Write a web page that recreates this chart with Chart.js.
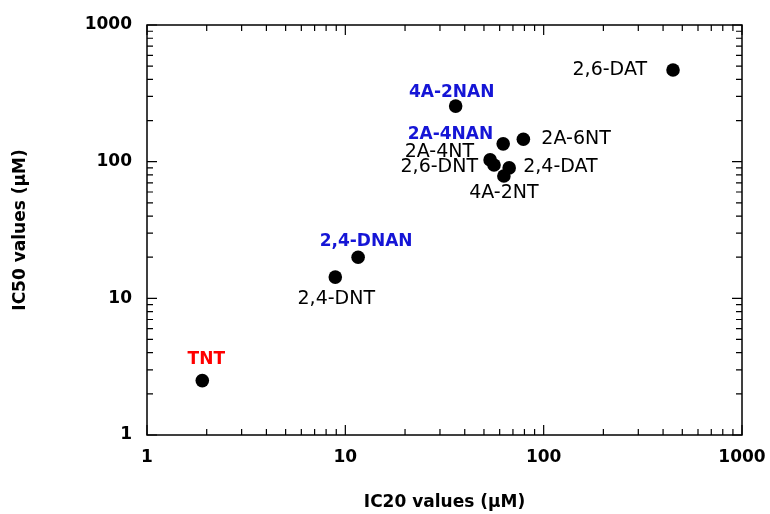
<!DOCTYPE html>
<html>
<head>
<meta charset="utf-8">
<script src="https://cdn.jsdelivr.net/npm/chart.js@4.4.1/dist/chart.umd.min.js"></script>
<style>
  html, body { margin: 0; padding: 0; background: #fff; }
  canvas { display: block; }
</style>
</head>
<body>
<canvas id="icChart" width="770" height="514"></canvas>
<script>
// values (uM)
const compounds = ["TNT", "2,4-DNT", "2,4-DNAN", "4A-2NAN", "2A-4NAN", "2A-6NT",
  "2A-4NT", "2,6-DNT", "2,4-DAT", "4A-2NT", "2,6-DAT"];
const ic20 = [1.9, 8.9, 11.6, 36, 62.5, 79, 53.7, 56.2, 67, 63, 449];
const ic50 = [2.5, 14.3, 20, 255, 135, 146, 103, 94.5, 90, 78.5, 468];
const groups = ["parent", "nt", "nan", "nan", "nan", "nt", "nt", "nt", "nt", "nt", "nt"];

const xTickLabels = ["1", "10", "100", "1000"];
const yTickLabels = ["1", "10", "100", "1000"];

// label placement relative to each point (px)
const labelPlace = {
  "TNT":      { dx: 4,   dy: -21, align: "center" },
  "2,4-DNT":  { dx: 1,   dy: 22,  align: "center" },
  "2,4-DNAN": { dx: 8,   dy: -16, align: "center" },
  "4A-2NAN":  { dx: -4,  dy: -14, align: "center" },
  "2A-4NAN":  { dx: -10, dy: -9,  align: "right" },
  "2A-6NT":   { dx: 18,  dy: 0,   align: "left" },
  "2A-4NT":   { dx: -16, dy: -8,  align: "right" },
  "2,6-DNT":  { dx: -16, dy: 2,   align: "right" },
  "2,4-DAT":  { dx: 14,  dy: -1,  align: "left" },
  "4A-2NT":   { dx: 0,   dy: 17,  align: "center" },
  "2,6-DAT":  { dx: -26, dy: 0,   align: "right" }
};

const groupStyle = {
  parent: { color: "#ff0000", font: "bold 17px 'DejaVu Sans'" },
  nan:    { color: "#1515d6", font: "bold 17px 'DejaVu Sans'" },
  nt:     { color: "#000000", font: "19px 'DejaVu Sans'" }
};

const frameTicks = {
  id: "frameTicks",
  afterDatasetsDraw(chart) {
    const { ctx, chartArea: a, scales } = chart;
    ctx.save();
    ctx.strokeStyle = "#000";
    ctx.lineWidth = 1.5;
    ctx.strokeRect(a.left, a.top, a.right - a.left, a.bottom - a.top);
    ctx.lineWidth = 1.2;
    const vals = [];
    [1, 10, 100].forEach(d => { for (let m = 1; m < 10; m++) vals.push(m * d); });
    vals.push(1000);
    vals.forEach(v => {
      const major = xTickLabels.includes(String(v));
      const len = major ? 10 : 6;
      const x = scales.x.getPixelForValue(v);
      const y = scales.y.getPixelForValue(v);
      ctx.beginPath();
      ctx.moveTo(x, a.bottom); ctx.lineTo(x, a.bottom - len);
      ctx.moveTo(x, a.top); ctx.lineTo(x, a.top + len);
      ctx.moveTo(a.left, y); ctx.lineTo(a.left + len, y);
      ctx.moveTo(a.right, y); ctx.lineTo(a.right - len, y);
      ctx.stroke();
    });
    ctx.restore();
  }
};

const pointLabels = {
  id: "pointLabels",
  afterDatasetsDraw(chart) {
    const { ctx, scales } = chart;
    ctx.save();
    ctx.textBaseline = "middle";
    compounds.forEach((name, i) => {
      const p = labelPlace[name];
      const st = groupStyle[groups[i]];
      ctx.fillStyle = st.color;
      ctx.font = st.font;
      ctx.textAlign = p.align;
      ctx.fillText(name,
        scales.x.getPixelForValue(ic20[i]) + p.dx,
        scales.y.getPixelForValue(ic50[i]) + p.dy);
    });
    ctx.restore();
  }
};

const tickFont = { family: "DejaVu Sans", size: 17, weight: "bold" };
const titleFont = { family: "DejaVu Sans", size: 17, weight: "bold" };

new Chart(document.getElementById("icChart"), {
  type: "scatter",
  data: {
    datasets: [{
      data: compounds.map((c, i) => ({ x: ic20[i], y: ic50[i] })),
      backgroundColor: "#000",
      borderWidth: 0,
      pointRadius: 6.8,
      pointHoverRadius: 6.8
    }]
  },
  options: {
    responsive: false,
    animation: false,
    layout: { padding: { left: 0, right: 28, top: 25, bottom: 0 } },
    plugins: { legend: { display: false }, tooltip: { enabled: false } },
    scales: {
      x: {
        type: "logarithmic",
        min: 1, max: 1000,
        grid: { display: false, drawTicks: false },
        border: { display: false },
        ticks: {
          autoSkip: false, maxRotation: 0, padding: 12,
          color: "#000", font: tickFont,
          callback: v => xTickLabels.includes(String(v)) ? String(v) : ""
        },
        title: { display: true, text: "IC20 values (\u00b5M)", color: "#000",
          font: titleFont, padding: { top: 0, bottom: 1 } },
        afterFit: s => { s.height = 79; s.paddingLeft = 0; s.paddingRight = 0; }
      },
      y: {
        type: "logarithmic",
        min: 1, max: 1000,
        grid: { display: false, drawTicks: false },
        border: { display: false },
        ticks: {
          autoSkip: false, padding: 15,
          color: "#000", font: tickFont,
          callback: v => yTickLabels.includes(String(v)) ? String(v) : ""
        },
        title: { display: true, text: "IC50 values (\u00b5M)", color: "#000",
          font: titleFont, padding: { top: 10, bottom: 0 } },
        afterFit: s => { s.width = 147; s.paddingTop = 0; s.paddingBottom = 0; }
      }
    }
  },
  plugins: [frameTicks, pointLabels]
});
</script>
</body>
</html>
